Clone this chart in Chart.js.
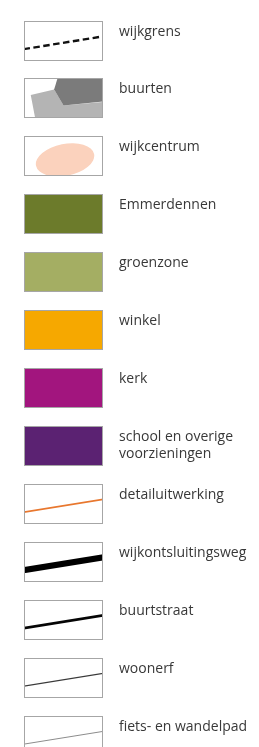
<!DOCTYPE html>
<html>
<head>
<meta charset="utf-8">
<script src="https://cdn.jsdelivr.net/npm/chart.js@4/dist/chart.umd.min.js"></script>
<style>
  html, body { margin: 0; padding: 0; background: #ffffff; }
  #wrap { width: 259px; height: 747px; position: relative; }
</style>
</head>
<body>
<div id="wrap"><canvas id="c" width="259" height="747"></canvas></div>
<script>
// ---- legend content ----
const categories = [
  'wijkgrens', 'buurten', 'wijkcentrum', 'Emmerdennen', 'groenzone', 'winkel', 'kerk',
  ['school en overige', 'voorzieningen'],
  'detailuitwerking', 'wijkontsluitingsweg', 'buurtstraat', 'woonerf', 'fiets- en wandelpad'
];
const swatchKinds = [
  'dash', 'buurten', 'ellipse', 'fill', 'fill', 'fill', 'fill', 'fill',
  'line', 'line', 'line', 'line', 'line'
];
const swatchColors = [
  '#111111', '#7b7b7b', '#fbd2bd', '#6c7b2b', '#a4ae63', '#f6a800', '#a2157e', '#5b2272',
  '#e8772e', '#000000', '#050505', '#3a3a3a', '#8c8c8c'
];

// ---- styles (not data) ----
const lineWidths = { 0: 2.4, 8: 1.6, 9: 6, 10: 2.8, 11: 1.2, 12: 1 };
const BOX_H = 39;
const TEXT_X = 119;
const TEXT_COLOR = '#383838';
const BORDER = '#a6a6a6';

const swatchPlugin = {
  id: 'swatches',
  afterDraw(chart) {
    const ctx = chart.ctx;
    const xs = chart.scales.x, ys = chart.scales.y;
    const x0 = Math.round(xs.getPixelForValue(0)) + 0.5;
    const x1 = Math.round(xs.getPixelForValue(1)) + 0.5;
    const w = x1 - x0;
    categories.forEach((label, i) => {
      const cy = ys.getPixelForValue(i);
      const top = Math.round(cy - BOX_H / 2) + 0.5;
      const kind = swatchKinds[i];
      const col = swatchColors[i];
      const px = f => x0 + f * w;
      const py = f => top + f * BOX_H;
      ctx.save();
      ctx.fillStyle = '#ffffff';
      ctx.fillRect(x0, top, w, BOX_H);
      ctx.beginPath();
      ctx.rect(x0, top, w, BOX_H);
      ctx.clip();
      if (kind === 'fill') {
        ctx.fillStyle = col;
        ctx.fillRect(x0, top, w, BOX_H);
      } else if (kind === 'ellipse') {
        ctx.fillStyle = col;
        ctx.beginPath();
        ctx.ellipse(px(0.52), py(0.6), 0.38 * w, 0.41 * BOX_H, -0.2, 0, Math.PI * 2);
        ctx.fill();
      } else if (kind === 'buurten') {
        ctx.fillStyle = '#b4b4b4';
        ctx.beginPath();
        [[0.08,0.42],[0.38,0.28],[0.5,0.69],[1,0.6],[1,1.05],[0.14,1.05]].forEach((p, k) => {
          k ? ctx.lineTo(px(p[0]), py(p[1])) : ctx.moveTo(px(p[0]), py(p[1]));
        });
        ctx.closePath(); ctx.fill();
        ctx.fillStyle = col;
        ctx.beginPath();
        [[0.43,-0.05],[1.05,-0.05],[1.05,0.58],[0.5,0.69],[0.38,0.28]].forEach((p, k) => {
          k ? ctx.lineTo(px(p[0]), py(p[1])) : ctx.moveTo(px(p[0]), py(p[1]));
        });
        ctx.closePath(); ctx.fill();
      } else {
        ctx.strokeStyle = col;
        ctx.lineWidth = lineWidths[i] || 1;
        ctx.setLineDash(kind === 'dash' ? [6.5, 3.5] : []);
        ctx.beginPath();
        ctx.moveTo(x0 - 1, py(0.71));
        ctx.lineTo(x1 + 1, py(0.38));
        ctx.stroke();
      }
      ctx.restore();
      ctx.save();
      ctx.strokeStyle = BORDER;
      ctx.lineWidth = 1;
      ctx.strokeRect(x0, top, w, BOX_H);
      ctx.restore();
      ctx.save();
      ctx.fillStyle = TEXT_COLOR;
      ctx.font = '14px "Open Sans"';
      ctx.textBaseline = 'alphabetic';
      ctx.textAlign = 'left';
      const lines = Array.isArray(label) ? label : [label];
      lines.forEach((t, k) => ctx.fillText(t, TEXT_X, top + 14 + k * 17.5));
      ctx.restore();
    });
  }
};

new Chart(document.getElementById('c'), {
  type: 'scatter',
  data: { datasets: [] },
  options: {
    responsive: false,
    animation: false,
    layout: { padding: { left: 24, right: 157, top: 40, bottom: 12 } },
    plugins: { legend: { display: false }, tooltip: { enabled: false } },
    scales: {
      x: { type: 'linear', min: 0, max: 1, display: false },
      y: { type: 'category', labels: categories, offset: false, display: false }
    }
  },
  plugins: [swatchPlugin]
});
</script>
</body>
</html>
